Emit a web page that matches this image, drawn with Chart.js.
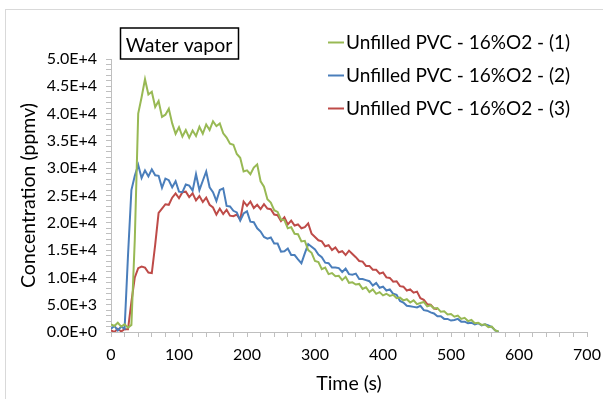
<!DOCTYPE html>
<html>
<head>
<meta charset="utf-8">
<title>Water vapor</title>
<script src="https://cdn.jsdelivr.net/npm/chart.js@4.4.1/dist/chart.umd.min.js"></script>
<style>
    body { margin: 0; background: #fff; }
    #wrap { width: 603px; height: 399px; }
</style>
</head>
<body>
<div id="wrap"><canvas id="waterChart" width="603" height="399"></canvas></div>
<script>
// time axis sampling (s)
const timeStep = 5;

const seriesNames = [
    'Unfilled PVC - 16%O2 - (1)',
    'Unfilled PVC - 16%O2 - (2)',
    'Unfilled PVC - 16%O2 - (3)'
];
const seriesColors = ['#98B954', '#4A7EBB', '#BE4B48'];

// ppmv, one value every 5 s starting at t = 0
const green = [1400, 1100, 1700, 1000, 1400, 800, 1300, 17000, 40000, 43000,
    46300, 43500, 44000, 41200, 42300, 39400, 39800, 40900, 38200, 36300,
    37500, 35800, 37000, 35600, 36900, 35900, 37600, 36300, 38000, 37000,
    38600, 37700, 38200, 36400, 35600, 34500, 34300, 32600, 31900, 29400,
    29600, 28900, 30100, 30700, 27600, 26600, 24300, 23700, 22300, 22000,
    20600, 20500, 19000, 19200, 18000, 17900, 16600, 16700, 15000, 14500,
    13000, 12800, 11500, 11800, 10600, 10800, 10200, 10300, 9500, 10100,
    9000, 9100, 8700, 8800, 7900, 8200, 7300, 7800, 7000, 7300,
    6700, 7000, 6600, 6800, 6200, 6300, 5800, 6000, 5400, 5800,
    5100, 5300, 5500, 4700, 4900, 4300, 4400, 3700, 3800, 3200,
    3300, 2800, 3000, 2400, 2600, 2000, 2200, 1600, 1700, 1300,
    1400, 900, 1000, 300, 100];

const blue = [600, 1100, 300, 1000, 600, 14000, 26000, 28600, 30600, 28200,
    29600, 28500, 29800, 28700, 28600, 26400, 28100, 27800, 26500, 27600,
    25700, 25600, 27000, 26800, 25900, 28900, 26000, 27700, 29400, 26500,
    25600, 24000, 26000, 26300, 23100, 23000, 22200, 21900, 20400, 21700,
    22100, 20200, 20100, 19000, 18400, 17400, 17100, 17300, 16200, 16200,
    14700, 14800, 15300, 14100, 14100, 13300, 12600, 14400, 16100, 15600,
    15100, 14200, 13700, 12700, 12600, 11800, 11800, 11700, 11000, 11600,
    10600, 10500, 10700, 9700, 9700, 9500, 9300, 8500, 9000, 8100,
    8300, 7600, 7800, 7000, 6800, 5700, 5400, 4800, 4700, 4600,
    4500, 4800, 4000, 3900, 3600, 3400, 2900, 2900, 2400, 2400,
    2100, 2200, 2400, 1900, 1900, 1600, 1700, 1400, 1600, 1200,
    1400, 1200, 900, 300, 0];

const red = [300, 0, 600, 100, 500, 500, 5500, 10000, 11700, 12000,
    11800, 10900, 10800, 16000, 21800, 22600, 23400, 23300, 24600, 25400,
    24500, 25600, 25700, 24700, 25400, 24100, 24900, 23800, 24600, 23300,
    22800, 21500, 22600, 21600, 22400, 21300, 21200, 21500, 20600, 23900,
    23100, 23900, 22700, 23300, 22500, 23400, 22600, 22500, 21500, 21400,
    20300, 21000, 19700, 20400, 19500, 19700, 19000, 19200, 19900, 18000,
    17400, 16800, 16600, 15700, 15900, 15000, 15500, 14600, 14800, 14100,
    14900, 14300, 13700, 13000, 12900, 12100, 12100, 11400, 11400, 10700,
    10900, 10000, 9900, 9200, 9300, 8400, 8300, 7600, 7800, 7200,
    7400, 6200, 5900, 5100, 5000, 4300, 4200];

const xTickLabels = ['0', '100', '200', '300', '400', '500', '600', '700'];
const yTickLabels = ['0.0E+0', '5.0E+3', '1.0E+4', '1.5E+4', '2.0E+4', '2.5E+4',
    '3.0E+4', '3.5E+4', '4.0E+4', '4.5E+4', '5.0E+4'];

const chartTitle = 'Water vapor';
const xTitle = 'Time (s)';
const yTitle = 'Concentration (ppmv)';

const FONT = 'Lato';

function toPoints(values) {
    return values.map((v, i) => ({ x: i * timeStep, y: v }));
}

// frame, title box and legend drawn on top of the canvas
const decorPlugin = {
    id: 'decor',
    beforeDraw(chart) {
        const ctx = chart.ctx;
        ctx.save();
        ctx.fillStyle = '#fff';
        ctx.fillRect(0, 0, chart.width, chart.height);
        ctx.strokeStyle = '#d9d9d9';
        ctx.lineWidth = 1;
        ctx.strokeRect(5.5, 9.5, 800, 600);
        ctx.restore();
    },
    afterDraw(chart) {
        const ctx = chart.ctx;
        ctx.save();
        // title box
        ctx.strokeStyle = '#000';
        ctx.lineWidth = 1.5;
        ctx.strokeRect(120.5, 28, 118, 31);
        ctx.fillStyle = '#000';
        ctx.font = '19.5px ' + FONT;
        ctx.textAlign = 'center';
        ctx.textBaseline = 'alphabetic';
        ctx.fillText(chartTitle, 179, 52);

        // legend
        ctx.font = '19px ' + FONT;
        ctx.textAlign = 'left';
        chart.data.datasets.forEach((ds, i) => {
            const y = 42.5 + i * 33;
            ctx.strokeStyle = ds.borderColor;
            ctx.lineWidth = 2;
            ctx.beginPath();
            ctx.moveTo(328, y);
            ctx.lineTo(344, y);
            ctx.stroke();
            ctx.fillStyle = '#000';
            ctx.fillText(ds.label, 346, y + 6.8);
        });
        ctx.restore();
    }
};

document.addEventListener('DOMContentLoaded', function() {
    const ctx = document.getElementById('waterChart').getContext('2d');
    const allSeries = [green, blue, red];

    new Chart(ctx, {
        type: 'line',
        data: {
            datasets: allSeries.map((values, i) => ({
                label: seriesNames[i],
                data: toPoints(values),
                borderColor: seriesColors[i],
                borderWidth: 2,
                pointRadius: 0,
                fill: false,
                tension: 0
            }))
        },
        options: {
            responsive: false,
            animation: false,
            layout: { padding: { left: 0, top: 59, right: 16, bottom: 0 } },
            plugins: {
                legend: { display: false },
                tooltip: { enabled: false }
            },
            scales: {
                x: {
                    type: 'linear',
                    min: 0,
                    max: 700,
                    afterFit: function(scale) {
                        scale.height = 67;
                        scale.paddingLeft = 0;
                        scale.paddingRight = 0;
                    },
                    ticks: {
                        stepSize: 20,
                        autoSkip: false,
                        maxRotation: 0,
                        padding: 8,
                        color: '#000',
                        font: { family: FONT, size: 16 },
                        callback: v => (v % 100 === 0 ? xTickLabels[v / 100] : '')
                    },
                    grid: { drawOnChartArea: false, tickLength: 5, color: '#bfbfbf' },
                    border: { color: '#bfbfbf', width: 1 },
                    title: {
                        display: true,
                        text: xTitle,
                        color: '#000',
                        font: { family: FONT, size: 19.5 },
                        padding: { top: 0, bottom: 4 }
                    }
                },
                y: {
                    min: 0,
                    max: 50000,
                    afterFit: function(scale) {
                        scale.width = 111;
                        scale.paddingTop = 0;
                        scale.paddingBottom = 0;
                    },
                    ticks: {
                        stepSize: 1000,
                        autoSkip: false,
                        padding: 9,
                        color: '#000',
                        font: { family: FONT, size: 16 },
                        callback: v => (v % 5000 === 0 ? yTickLabels[v / 5000] : '')
                    },
                    grid: { drawOnChartArea: false, tickLength: 5, color: '#bfbfbf' },
                    border: { color: '#bfbfbf', width: 1 },
                    title: {
                        display: true,
                        text: yTitle,
                        color: '#000',
                        font: { family: FONT, size: 19.5 },
                        padding: { top: 17, bottom: 0 }
                    }
                }
            }
        },
        plugins: [decorPlugin]
    });
});
</script>
</body>
</html>
